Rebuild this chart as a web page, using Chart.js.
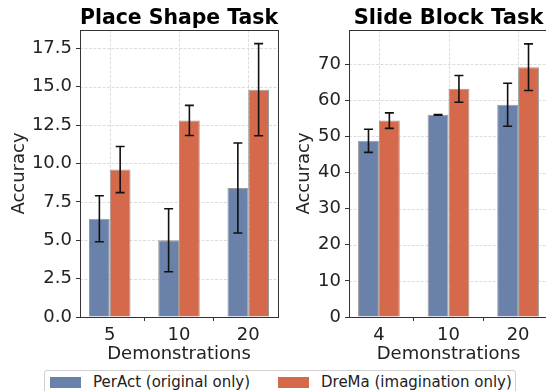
<!DOCTYPE html>
<html>
<head>
<meta charset="utf-8">
<script src="https://cdn.jsdelivr.net/npm/chart.js@4.4.1/dist/chart.umd.min.js"></script>
<style>
  html, body { margin: 0; padding: 0; background: #fff; }
  #wrap { position: relative; width: 546px; height: 391px; overflow: hidden; background: #fff; }
  canvas { position: absolute; top: 0; }
  #legend { position: absolute; left: 44px; top: 370px; width: 470px; height: 30px;
    border: 1px solid #d0d0d0; border-radius: 3px; background: #fff;
    font-family: "DejaVu Sans", sans-serif; font-size: 15px; color: #222; }
  .sw { position: absolute; top: 6px; width: 31px; height: 11px; }
  .lt { position: absolute; top: 1.5px; line-height: 18px; white-space: nowrap; }
</style>
</head>
<body>
<div id="wrap">
  <canvas id="c1" width="285" height="370" style="left:0px"></canvas>
  <canvas id="c2" width="270" height="370" style="left:285px"></canvas>
  <div id="legend">
    <div class="sw" style="left:5px;background:#6a81aa;"></div>
    <div class="lt" style="left:48px;">PerAct (original only)</div>
    <div class="sw" style="left:233px;background:#d46a4b;"></div>
    <div class="lt" style="left:276px;">DreMa (imagination only)</div>
  </div>
</div>
<script>
// ---- data ----
const seriesNames = ["PerAct (original only)", "DreMa (imagination only)"];
const placeCategories = ["5", "10", "20"];
const placePerAct = [6.4, 5.0, 8.4];
const placePerActErr = [1.5, 2.05, 2.93];
const placeDreMa = [9.6, 12.8, 14.8];
const placeDreMaErr = [1.5, 0.98, 3.0];
const placeTicks = [0, 2.5, 5, 7.5, 10, 12.5, 15, 17.5];

const slideCategories = ["4", "10", "20"];
const slidePerAct = [48.8, 56.0, 58.8];
const slidePerActErr = [3.2, 0.1, 5.95];
const slideDreMa = [54.4, 63.2, 69.2];
const slideDreMaErr = [2.15, 3.7, 6.45];
const slideTicks = [0, 10, 20, 30, 40, 50, 60, 70];

const BLUE = '#6a81aa', ORANGE = '#d46a4b';
const FONT = '"DejaVu Sans", sans-serif';

const dashedGridPlugin = {
  id: 'dgrid',
  beforeDatasetsDraw(chart) {
    const a = chart.chartArea, ctx = chart.ctx;
    const xs = chart.scales.x, ys = chart.scales.y;
    ctx.save();
    ctx.strokeStyle = '#dcdcdc';
    ctx.lineWidth = 1;
    ctx.setLineDash([3, 1.5]);
    ctx.beginPath();
    xs.ticks.forEach(t => {
      const px = Math.round(xs.getPixelForValue(t.value)) + 0.5;
      ctx.moveTo(px, a.top); ctx.lineTo(px, a.bottom);
    });
    ys.ticks.forEach(t => {
      const py = Math.round(ys.getPixelForValue(t.value)) + 0.5;
      ctx.moveTo(a.left, py); ctx.lineTo(a.right, py);
    });
    ctx.stroke();
    ctx.restore();
  }
};
const errorBarPlugin = {
  id: 'errbars',
  afterDatasetsDraw(chart) {
    const ctx = chart.ctx, ys = chart.scales.y;
    chart.data.datasets.forEach((ds, di) => {
      const meta = chart.getDatasetMeta(di);
      meta.data.forEach((el, i) => {
        const v = ds.data[i].y, e = ds.errors[i];
        const x = el.x;
        const y1 = ys.getPixelForValue(v + e), y2 = ys.getPixelForValue(v - e);
        ctx.save();
        ctx.strokeStyle = '#111';
        ctx.lineWidth = 1.6;
        ctx.beginPath();
        ctx.moveTo(x, y1); ctx.lineTo(x, y2);
        ctx.moveTo(x - 4.5, y1); ctx.lineTo(x + 4.5, y1);
        ctx.moveTo(x - 4.5, y2); ctx.lineTo(x + 4.5, y2);
        ctx.stroke();
        ctx.restore();
      });
    });
  }
};
const framePlugin = {
  id: 'frame',
  afterDraw(chart) {
    const a = chart.chartArea, ctx = chart.ctx;
    ctx.save();
    ctx.strokeStyle = '#333';
    ctx.lineWidth = 1;
    ctx.strokeRect(Math.round(a.left) + 0.5, Math.round(a.top) + 0.5,
                   Math.round(a.right - a.left), Math.round(a.bottom - a.top));
    ctx.restore();
  }
};

function makeChart(id, title, cats, a, ae, b, be, ticks, ymax, decimals, yWidth, padRight) {
  const toPts = arr => arr.map((v, i) => ({x: i, y: v}));
  return new Chart(document.getElementById(id), {
    type: 'bar',
    data: {
      datasets: [
        {label: seriesNames[0], data: toPts(a), errors: ae, backgroundColor: BLUE,
         borderColor: '#9a9a9a', borderWidth: 1, categoryPercentage: 0.6, barPercentage: 1.0},
        {label: seriesNames[1], data: toPts(b), errors: be, backgroundColor: ORANGE,
         borderColor: '#9a9a9a', borderWidth: 1, categoryPercentage: 0.6, barPercentage: 1.0}
      ]
    },
    options: {
      responsive: false,
      animation: false,
      devicePixelRatio: 1,
      layout: {padding: {left: 0, right: padRight, top: 0, bottom: 0}},
      plugins: {
        legend: {display: false},
        tooltip: {enabled: false},
        title: {display: true, text: title, color: '#000', fullSize: false, align: 'center',
                font: {family: FONT, size: 21, weight: 'bold', lineHeight: 1.0},
                padding: {top: 8.5, bottom: 0.5}}
      },
      scales: {
        x: {
          type: 'linear', min: -0.43, max: 2.43, offset: false,
          afterBuildTicks: s => { s.ticks = cats.map((c, i) => ({value: i})); },
          afterFit: s => { s.height = 53; },
          ticks: {callback: (v) => cats[v], color: '#222', padding: 4,
                  font: {family: FONT, size: 18}, maxRotation: 0, autoSkip: false},
          grid: {drawOnChartArea: false, drawTicks: true, tickLength: 4, tickColor: '#333', tickWidth: 1},
          border: {display: true, color: '#333', width: 1},
          title: {display: true, text: 'Demonstrations', color: '#222',
                  font: {family: FONT, size: 18}, padding: {top: 0, bottom: 5}}
        },
        y: {
          min: 0, max: ymax,
          afterBuildTicks: s => { s.ticks = ticks.map(v => ({value: v})); },
          afterFit: s => { s.width = yWidth; },
          ticks: {callback: v => v.toFixed(decimals), color: '#222', padding: 4,
                  font: {family: FONT, size: 18}},
          grid: {drawOnChartArea: false, drawTicks: true, tickLength: 4, tickColor: '#333', tickWidth: 1},
          border: {display: true, color: '#333', width: 1},
          title: {display: true, text: 'Accuracy', color: '#222',
                  font: {family: FONT, size: 18}, padding: {top: 9, bottom: 0}}
        }
      }
    },
    plugins: [dashedGridPlugin, errorBarPlugin, framePlugin]
  });
}

makeChart('c1', 'Place Shape Task', placeCategories, placePerAct, placePerActErr,
          placeDreMa, placeDreMaErr, placeTicks, 18.69, 1, 80, 7);
makeChart('c2', 'Slide Block Task', slideCategories, slidePerAct, slidePerActErr,
          slideDreMa, slideDreMaErr, slideTicks, 79.5, 0, 64, 7);
</script>
</body>
</html>
